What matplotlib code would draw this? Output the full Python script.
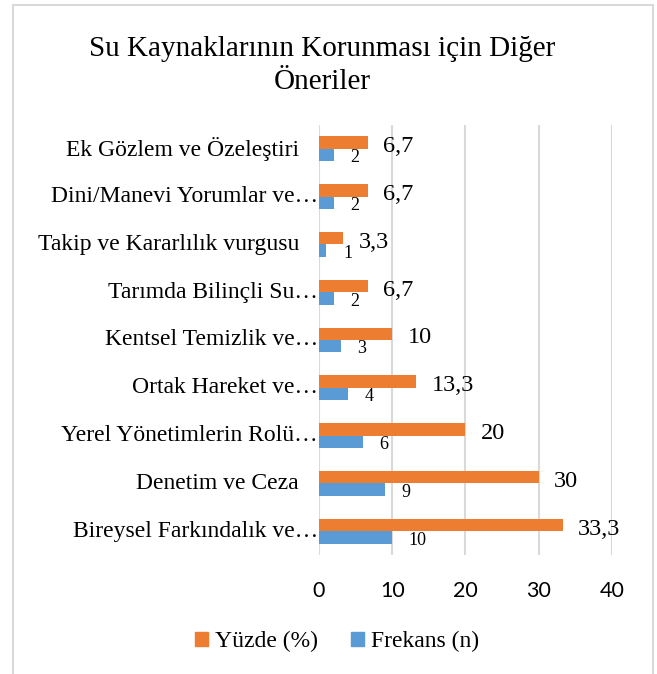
import matplotlib.pyplot as plt
import numpy as np
from matplotlib.patches import Patch, Rectangle

# categories listed bottom to top, as drawn
categories = [
    "Bireysel Farkındalık ve…",
    "Denetim ve Ceza",
    "Yerel Yönetimlerin Rolü…",
    "Ortak Hareket ve…",
    "Kentsel Temizlik ve…",
    "Tarımda Bilinçli Su…",
    "Takip ve Kararlılık vurgusu",
    "Dini/Manevi Yorumlar ve…",
    "Ek Gözlem ve Özeleştiri",
]
yuzde = [33.3, 30, 20, 13.3, 10, 6.7, 3.3, 6.7, 6.7]
frekans = [10, 9, 6, 4, 3, 2, 1, 2, 2]
x_ticks = [0, 10, 20, 30, 40]

title = "Su Kaynaklarının Korunması için Diğer\nÖneriler"
orange = "#ED7D31"
blue = "#5B9BD5"
serif = "Liberation Serif"
sans = "Lato"

fig = plt.figure(figsize=(6.57, 6.74), dpi=100)
ax = fig.add_axes([0.4855, 0.1766, 0.446, 0.638])

y = np.arange(len(categories))
h = 0.26
b1 = ax.barh(y + h / 2, yuzde, h, color=orange)
b2 = ax.barh(y - h / 2, frekans, h, color=blue)

def fmt(v):
    s = f"{v:g}"
    return s.replace(".", ",")

lab1 = ax.bar_label(b1, labels=[fmt(v) for v in yuzde], padding=11,
                    fontsize=17.5, family=serif)
lab2 = ax.bar_label(b2, labels=[fmt(v) for v in frekans], padding=12,
                    fontsize=13, family=serif)
# Excel places the labels a touch lower than the bar centre
for t in lab1:
    t.xyann = (t.xyann[0], t.xyann[1] - 3)
for t in lab2:
    t.xyann = (t.xyann[0], t.xyann[1] - 2)

ax.set_xlim(0, 40)
ax.set_ylim(-0.5, len(categories) - 0.5)
ax.set_xticks(x_ticks)
ax.set_xticklabels([str(t) for t in x_ticks], family=sans, fontsize=15.5)
ax.tick_params(axis="x", length=0, pad=19)
ax.set_yticks([])
ax.grid(axis="x", color="#d9d9d9", linewidth=1.5)
ax.set_axisbelow(True)
for s in ax.spines.values():
    s.set_visible(False)

# category labels, right aligned against the axis
trans = ax.get_yaxis_transform()
for yi, lab in zip(y, categories):
    gap = -1 if lab.endswith("…") else -20
    ax.annotate(lab, xy=(0, yi), xycoords=trans, xytext=(gap * 0.72, 0),
                textcoords="offset points", ha="right", va="center",
                fontsize=17, family=serif)

fig.text(0.49, 0.903, title, ha="center", va="center", fontsize=21,
         family=serif, linespacing=1.35)

handles = [Patch(color=orange, label="Yüzde (%)"),
           Patch(color=blue, label="Frekans (n)")]
fig.legend(handles=handles, loc="center", bbox_to_anchor=(0.513, 0.048),
           ncol=2, frameon=False, prop={"family": serif, "size": 17},
           handlelength=0.55, handleheight=0.55, handletextpad=0.3,
           columnspacing=1.4)

fig.patches.append(Rectangle((13 / 657, -0.1), 640 / 657, 1.1 - 5 / 674,
                             transform=fig.transFigure, fill=False,
                             edgecolor="#d9d9d9", linewidth=1.5))

fig.savefig("out.png", dpi=100)
